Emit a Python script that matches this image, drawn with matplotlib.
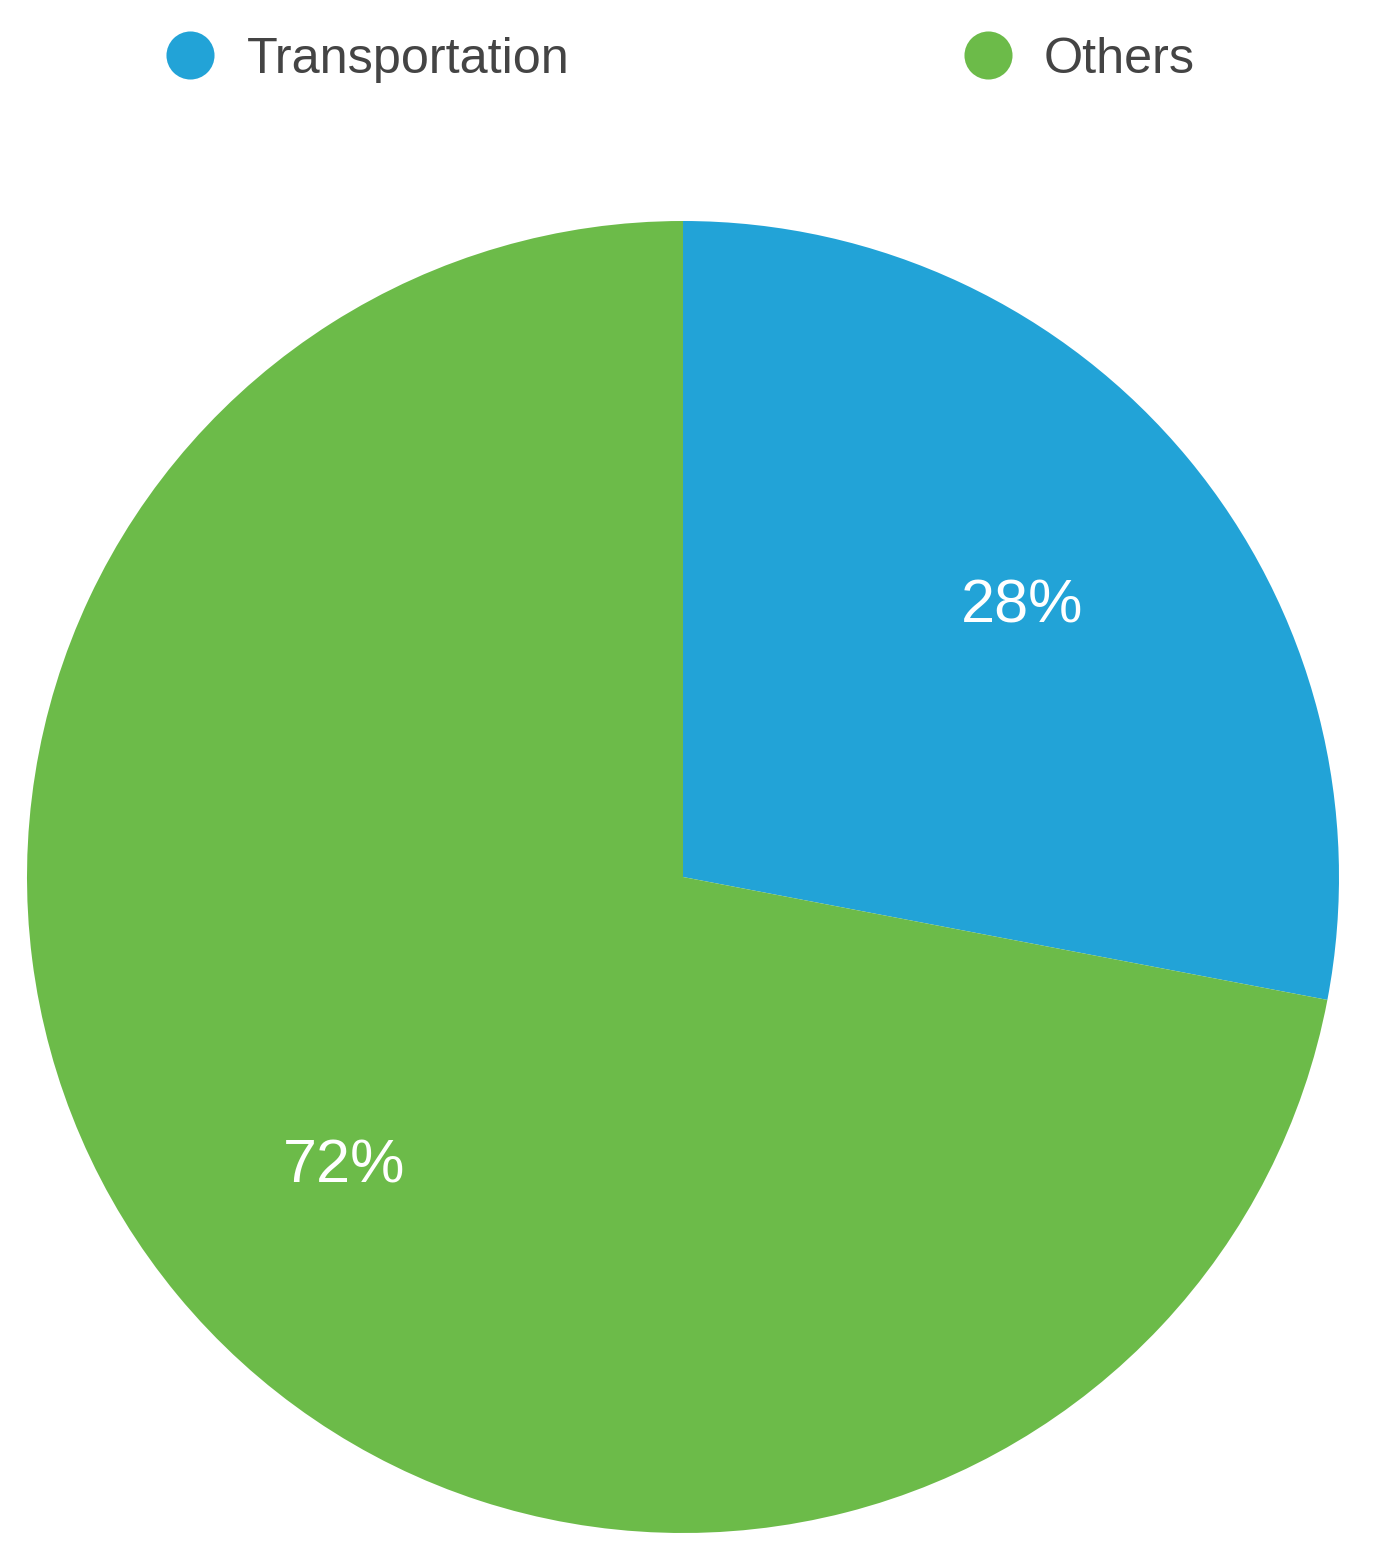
import matplotlib
matplotlib.use("Agg")
import matplotlib.pyplot as plt
import matplotlib.transforms as mtransforms
from matplotlib.lines import Line2D

categories = ["Transportation", "Others"]
values = [28, 72]
colors = ["#22A3D7", "#6CBB49"]

plt.rcParams['font.family'] = ['Liberation Sans', 'DejaVu Sans']

W, H = 1375, 1557
fig = plt.figure(figsize=(W / 100, H / 100), dpi=100)
cx, cy, r = 683, 877, 656
ax = fig.add_axes([(cx - r) / W, (H - cy - r) / H, 2 * r / W, 2 * r / H])

wedges, texts, autotexts = ax.pie(
    values, colors=colors, startangle=90, counterclock=False,
    autopct=lambda p: f"{p:.0f}%", pctdistance=0.67,
    wedgeprops=dict(linewidth=0),
    textprops=dict(color="white", fontsize=44))
for t in autotexts:
    t.set_transform(mtransforms.offset_copy(ax.transData, fig=fig, x=0, y=-10, units='dots'))
ax.set_xlim(-1, 1)
ax.set_ylim(-1, 1)
ax.set_aspect('auto')
ax.axis('off')

handles = [Line2D([0], [0], marker='o', linestyle='none', markersize=34.6,
                  markerfacecolor=c, markeredgecolor='none') for c in colors]
fig.legend(handles, categories, loc='center left',
           bbox_to_anchor=(166 / W, 1 - 60 / H), ncol=2, frameon=False,
           fontsize=36.3, labelcolor='#444444', borderpad=0, borderaxespad=0,
           handlelength=0.97, handletextpad=0.63, columnspacing=7.81)

fig.savefig("out.png", dpi=100, facecolor='white')
